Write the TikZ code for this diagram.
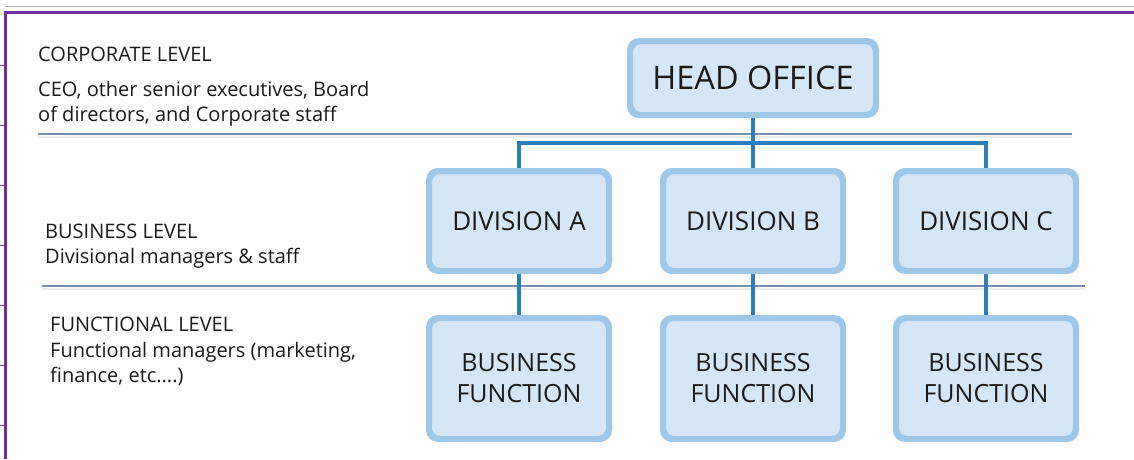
\documentclass[tikz,border=0pt]{standalone}
\usepackage{fontspec}
\setmainfont{Open Sans}
\definecolor{boxfill}{HTML}{D5E6F6}
\definecolor{boxline}{HTML}{9DC8EA}
\definecolor{conn}{HTML}{2B7BBF}
\definecolor{sep}{HTML}{7A8FAE}
\definecolor{purp}{HTML}{7030A0}
\definecolor{txt}{HTML}{1A1A1A}
\begin{document}
\begin{tikzpicture}[x=1pt,y=-1pt,
  orgbox/.style={draw=boxline, fill=boxfill, line width=4pt, rounded corners=10pt,
    inner sep=0pt, text=txt, align=center},
  hobox/.style={orgbox, minimum width=244pt, minimum height=72pt, font=\fontsize{32.5}{36}\selectfont},
  divbox/.style={orgbox, minimum width=178pt, minimum height=98pt, font=\fontsize{26}{30}\selectfont},
  bfbox/.style={orgbox, minimum width=178pt, minimum height=119pt, font=\fontsize{25}{31}\selectfont},
  conn/.style={draw=conn, line width=4pt},
  sepline/.style={draw=sep, line width=2pt},
  sepshadow/.style={draw=black!8, line width=2pt},
  lvltext/.style={anchor=base west, inner sep=0pt, text=txt, font=\fontsize{20}{25}\selectfont},
  frame/.style={draw=purp, line width=3pt},
  tick/.style={draw=purp, line width=1pt}]
\useasboundingbox (0,0) rectangle (1134,459);
\fill[white] (0,0) rectangle (1134,459);
% purple frame
\draw[draw=black!30, line width=0.8pt] (5,6.5) -- (1134,6.5);
\draw[frame] (1134,12) -- (5.5,12) -- (5.5,459);
\foreach \yy in {65,125,185,245,305,365,425} \draw[tick] (0,\yy) -- (4,\yy);
% separators
\coordinate (s1a) at (38,134); \coordinate (s1b) at (1072,134);
\coordinate (s2a) at (42,286); \coordinate (s2b) at (1085,286);
\draw[sepshadow] ([yshift=-2.5pt]s1a) -- ([yshift=-2.5pt]s1b);
\draw[sepshadow] ([yshift=-2.5pt]s2a) -- ([yshift=-2.5pt]s2b);
\draw[sepline] (s1a) -- (s1b);
\draw[sepline] (s2a) -- (s2b);
% level labels
\node[lvltext] (t1) at (38,61) {CORPORATE LEVEL};
\node[lvltext] (d1a) at (38,96) {CEO, other senior executives, Board};
\node[lvltext] (d1b) at (38,121) {of directors, and Corporate staff};
\node[lvltext] (t2) at (45,238) {BUSINESS LEVEL};
\node[lvltext] (d2) at (45,263) {Divisional managers \& staff};
\node[lvltext] (t3) at (50,331) {FUNCTIONAL LEVEL};
\node[lvltext] (d3a) at (50,357) {Functional managers (marketing,};
\node[lvltext] (d3b) at (50,382) {finance, etc....)};
% connectors
\coordinate (hop) at (753,116);
\coordinate (j) at (753,143);
% boxes
\node[hobox] (ho) at (753,78) {HEAD OFFICE};
\node[divbox] (da) at (519,221) {DIVISION A};
\node[divbox] (db) at (753,221) {DIVISION B};
\node[divbox] (dc) at (986,221) {DIVISION C};
\node[bfbox] (fa) at (519,378.5) {BUSINESS\\FUNCTION};
\node[bfbox] (fb) at (753,378.5) {BUSINESS\\FUNCTION};
\node[bfbox] (fc) at (986,378.5) {BUSINESS\\FUNCTION};
\path[conn] (ho.south) -- (db.north);
\path[conn] (da.north) |- (j) -| (dc.north);
\path[conn] (da.south) -- (fa.north);
\path[conn] (db.south) -- (fb.north);
\path[conn] (dc.south) -- (fc.north);
% redraw box borders on top of connector ends
\foreach \n in {ho,da,db,dc,fa,fb,fc}
  \draw[draw=boxline, line width=4pt, rounded corners=10pt] (\n.south west) rectangle (\n.north east);
\end{tikzpicture}
\end{document}
